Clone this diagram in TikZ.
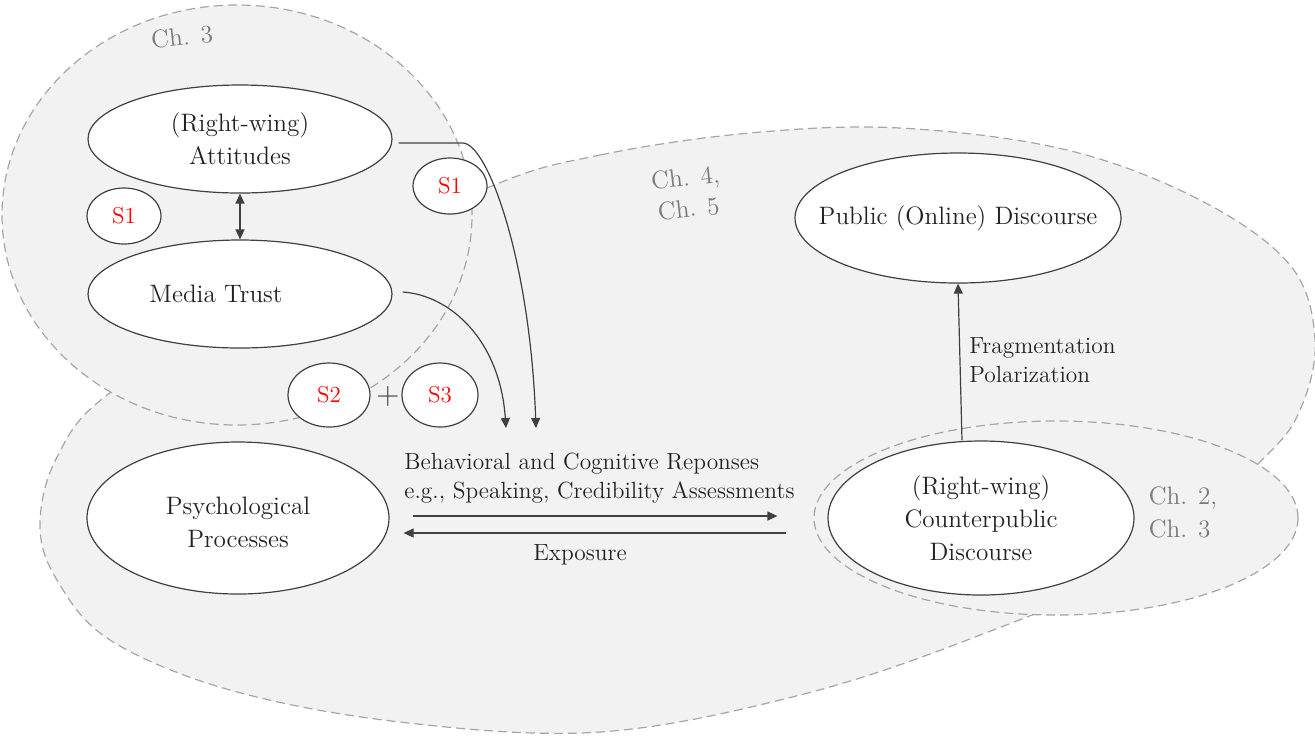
\documentclass[tikz,border=0pt]{standalone}
\usetikzlibrary{shapes.geometric,arrows.meta,calc}
\definecolor{bgfill}{HTML}{F2F2F2}
\definecolor{dashc}{HTML}{A6A6A6}
\definecolor{linec}{HTML}{404040}
\definecolor{txtc}{HTML}{222222}
\definecolor{chc}{HTML}{7A7A7A}
\definecolor{sred}{HTML}{FF0000}
\begin{document}
\begin{tikzpicture}[x=0.5pt,y=-0.5pt,
 region/.style={fill=bgfill,draw=dashc,line width=0.6pt,dash pattern=on 4.5pt off 2.5pt},
 oval/.style={ellipse,draw=linec,fill=white,line width=0.6pt,inner sep=0pt},
 otext/.style={text=txtc,font=\fontsize{12.6}{16.5}\selectfont,align=center,inner sep=0pt},
 snode/.style={ellipse,draw=linec,fill=white,line width=0.6pt,inner sep=0pt,text=sred,font=\fontsize{11.5}{14}\selectfont},
 lbl/.style={text=txtc,font=\fontsize{11.7}{14.5}\selectfont,inner sep=0pt},
 chlbl/.style={text=chc,font=\fontsize{12.6}{15.5}\selectfont,inner sep=0pt,align=center},
 arr/.style={draw=linec,line width=0.6pt,-{Triangle[length=5pt,width=4.5pt]}},
 dbl/.style={draw=linec,line width=0.6pt,{Triangle[length=5pt,width=4.5pt]}-{Triangle[length=5pt,width=4.5pt]}},
]
\useasboundingbox (0,0) rectangle (1315,736);
% big region Ch.4/Ch.5
\draw[region] plot[smooth cycle,tension=0.6] coordinates {
 (487,188) (600,155) (750,133) (900,128) (1067,150) (1200,200) (1290,265)
 (1315,340) (1300,410) (1262,460) (1150,560) (975,637) (800,695) (600,732)
 (400,722) (230,690) (110,640) (57,580) (40,525) (57,457) (111,392) (280,290)};
% Ch.3 region
\draw[region] (237,215) ellipse [x radius=117.5pt, y radius=105pt];
% Ch.2/Ch.3 region
\draw[region] (1056,518) ellipse [x radius=121pt, y radius=48.5pt];

% nodes
\node[oval,minimum width=152pt,minimum height=54pt,
  label={[otext]center:{(Right-wing)\\Attitudes}}] (att) at (240,139) {};
\node[oval,minimum width=152pt,minimum height=54pt,
  label={[otext,xshift=-12pt]center:{Media Trust}}] (mt) at (240,294) {};
\node[oval,minimum width=151pt,minimum height=76pt,
  label={[otext,yshift=-2pt]center:{Psychological\\Processes}}] (pp) at (238,518) {};
\node[oval,minimum width=163pt,minimum height=65pt,
  label={[otext]center:{Public (Online) Discourse}}] (pub) at (958,218) {};
\node[oval,minimum width=153pt,minimum height=77pt,
  label={[otext]center:{(Right-wing)\\Counterpublic\\Discourse}}] (cp) at (981,518) {};

\node[snode,minimum width=37pt,minimum height=28pt] (s1a) at (124,216) {S1};
\node[snode,minimum width=37pt,minimum height=28pt] (s1b) at (450,186) {S1};
\node[snode,minimum width=41pt,minimum height=32pt] (s2) at (329,395) {S2};
\node[snode,minimum width=38pt,minimum height=32pt] (s3) at (440,395) {S3};
\node[text=linec,font=\fontsize{16}{16}\selectfont,inner sep=0pt] (plus) at (388,396) {+};

% labels
\node[chlbl,rotate=6] (ch3) at (182,37) {Ch. 3};
\node[chlbl,rotate=6] (ch45) at (687,193) {Ch. 4,\\Ch. 5};
\node[chlbl,align=left,font=\fontsize{12.6}{16.5}\selectfont] (ch23) at (1183,512) {Ch. 2,\\Ch. 3};
\node[lbl,anchor=west,align=left] (resp) at (404,478) {Behavioral and Cognitive Reponses\\e.g., Speaking, Credibility Assessments};
\node[lbl] (expo) at (580,555) {Exposure};
\node[lbl,anchor=west,align=left] (frag) at (969,360) {Fragmentation\\Polarization};

% connectors
\coordinate (r1) at (536,428);
\coordinate (r2) at (506,428);
\draw[arr] ([shift={(3pt,-2pt)}]att.east) -- ++(32pt,0pt) .. controls +(12.5pt,0pt) and (530,260) .. (r1);
\draw[arr] ([shift={(5pt,1pt)}]mt.east) .. controls (450,295) and (500,340) .. (r2);
\draw[dbl] (att.south) -- (mt.north);
\draw[arr] ([xshift=-9.5pt]cp.north) -- (pub.south);
\draw[arr] ([shift={(11.5pt,1pt)}]pp.east) -- ([shift={(-25pt,1pt)}]cp.west);
\draw[arr] ([shift={(-20.5pt,-7.5pt)}]cp.west) -- ([shift={(7pt,-7.5pt)}]pp.east);
\end{tikzpicture}
\end{document}
